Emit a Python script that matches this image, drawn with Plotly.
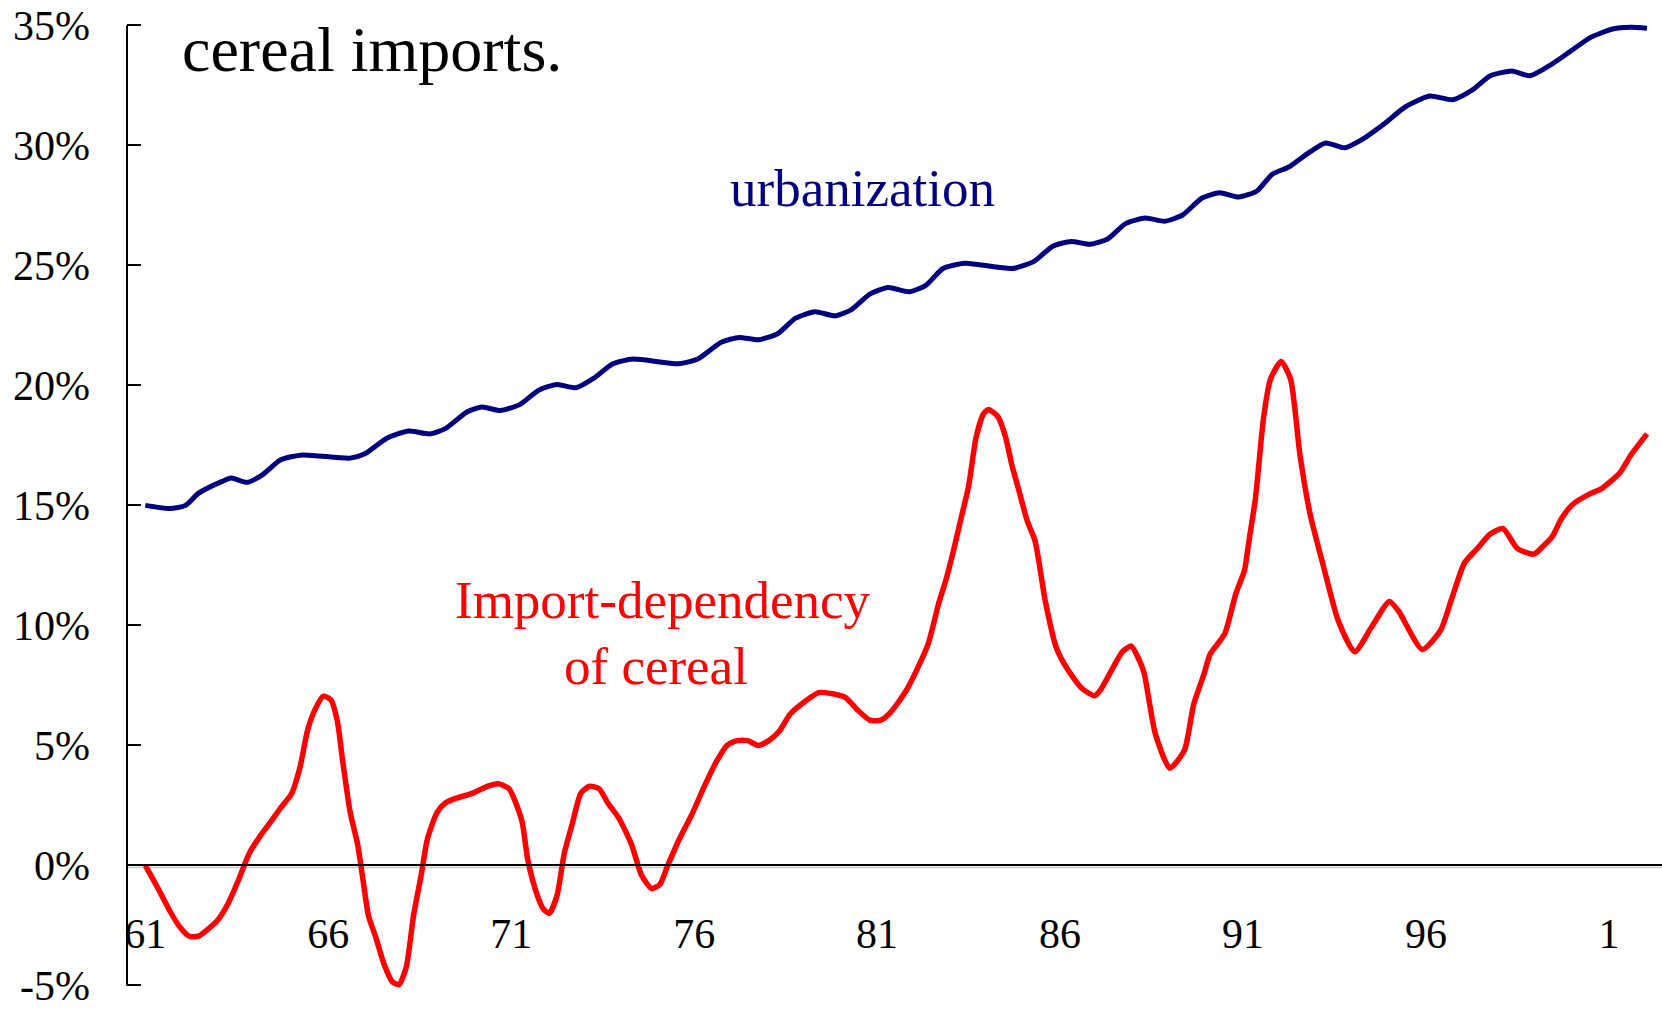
import plotly.graph_objects as go

# ---- data ----
urban_years = [1961.0, 1961.67, 1962.1, 1962.45, 1963.1, 1963.35, 1963.78, 1964.2, 1964.7, 1965.3,
               1966.6, 1967.0, 1967.6, 1968.2, 1968.77, 1969.2, 1969.8, 1970.2, 1970.7, 1971.23,
               1971.75, 1972.25, 1972.77, 1973.26, 1973.78, 1974.33, 1975.58, 1976.1, 1976.74, 1977.23,
               1977.75, 1978.28, 1978.77, 1979.3, 1979.84, 1980.3, 1980.8, 1981.3, 1981.87, 1982.33,
               1982.8, 1983.4, 1984.7, 1985.3, 1985.8, 1986.3, 1986.83, 1987.3, 1987.8, 1988.33,
               1988.86, 1989.35, 1989.87, 1990.36, 1990.88, 1991.38, 1991.8, 1992.25, 1992.8, 1993.26,
               1993.78, 1994.27, 1994.86, 1995.43, 1996.1, 1996.73, 1997.26, 1997.76, 1998.35, 1998.84,
               1999.35, 1999.93, 2000.5, 2001.1, 2001.6, 2002.04]
urban_values = [15.0, 14.87, 15.0, 15.5, 16.0, 16.14, 15.96, 16.27, 16.9, 17.1,
                16.97, 17.15, 17.8, 18.1, 17.98, 18.2, 18.9, 19.1, 18.95, 19.2,
                19.8, 20.04, 19.9, 20.3, 20.9, 21.1, 20.9, 21.1, 21.8, 22.0,
                21.9, 22.15, 22.8, 23.07, 22.9, 23.16, 23.8, 24.08, 23.9, 24.17,
                24.87, 25.09, 24.87, 25.18, 25.8, 26.0, 25.88, 26.1, 26.75, 26.97,
                26.84, 27.1, 27.8, 28.03, 27.85, 28.1, 28.8, 29.1, 29.7, 30.1,
                29.9, 30.26, 30.9, 31.6, 32.06, 31.9, 32.3, 32.9, 33.1, 32.9,
                33.3, 33.9, 34.5, 34.85, 34.92, 34.88]

import_years = [1961.0, 1961.38, 1961.67, 1961.96, 1962.2, 1962.45, 1962.68, 1962.97, 1963.26, 1963.55,
                1963.84, 1964.13, 1964.42, 1964.7, 1965.0, 1965.23, 1965.43, 1965.64, 1965.87, 1966.07,
                1966.25, 1966.39, 1966.6, 1966.8, 1966.94, 1967.1, 1967.3, 1967.52, 1967.75, 1967.93,
                1968.13, 1968.33, 1968.54, 1968.71, 1968.97, 1969.2, 1969.5, 1969.93, 1970.36, 1970.65,
                1970.94, 1971.1, 1971.3, 1971.45, 1971.67, 1971.87, 1972.04, 1972.25, 1972.45, 1972.68,
                1972.9, 1973.14, 1973.4, 1973.64, 1973.93, 1974.28, 1974.56, 1974.83, 1975.06, 1975.29,
                1975.58, 1975.93, 1976.28, 1976.6, 1976.9, 1977.17, 1977.46, 1977.75, 1978.04, 1978.33,
                1978.62, 1979.0, 1979.4, 1979.78, 1980.13, 1980.45, 1980.8, 1981.1, 1981.38, 1981.8,
                1982.1, 1982.4, 1982.68, 1982.9, 1983.1, 1983.3, 1983.5, 1983.7, 1983.9, 1984.04,
                1984.3, 1984.5, 1984.68, 1984.86, 1985.1, 1985.32, 1985.6, 1985.9, 1986.2, 1986.6,
                1986.94, 1987.1, 1987.45, 1987.7, 1987.94, 1988.15, 1988.3, 1988.6, 1989.0, 1989.4,
                1989.65, 1989.93, 1990.1, 1990.5, 1990.8, 1991.04, 1991.16, 1991.34, 1991.56, 1991.75,
                1992.04, 1992.3, 1992.55, 1992.83, 1993.2, 1993.6, 1994.05, 1994.5, 1995.0, 1995.25,
                1995.9, 1996.4, 1996.7, 1997.05, 1997.4, 1997.75, 1998.1, 1998.5, 1998.95, 1999.2,
                1999.45, 1999.7, 2000.0, 2000.5, 2000.8, 2001.3, 2001.6, 2002.04]
import_values = [0.0, -1.05, -1.9, -2.6, -2.95, -2.95, -2.7, -2.3, -1.6, -0.6,
                 0.5, 1.2, 1.8, 2.4, 3.0, 4.1, 5.6, 6.5, 7.05, 6.9,
                 6.0, 4.4, 2.2, 0.9, -0.5, -2.1, -3.0, -4.1, -4.85, -4.97,
                 -4.25, -2.1, -0.4, 1.1, 2.2, 2.6, 2.8, 3.0, 3.3, 3.4,
                 3.2, 2.7, 1.8, 0.26, -1.05, -1.8, -2.0, -1.27, 0.5, 1.8,
                 3.0, 3.3, 3.2, 2.6, 2.0, 0.9, -0.4, -0.96, -0.8, 0.04,
                 1.05, 2.1, 3.3, 4.3, 5.0, 5.2, 5.2, 5.0, 5.2, 5.6,
                 6.3, 6.8, 7.2, 7.15, 7.0, 6.5, 6.05, 6.05, 6.4, 7.3,
                 8.2, 9.25, 10.9, 12.0, 13.2, 14.5, 15.8, 17.8, 18.8, 19.0,
                 18.7, 17.9, 16.7, 15.7, 14.37, 13.5, 10.98, 9.06, 8.18, 7.37,
                 7.07, 7.3, 8.25, 8.9, 9.14, 8.6, 8.0, 5.5, 4.05, 4.8,
                 6.7, 7.96, 8.8, 9.65, 11.3, 12.3, 13.5, 15.3, 18.64, 20.26,
                 21.0, 20.26, 17.17, 14.66, 12.45, 10.2, 8.9, 9.9, 11.0, 10.6,
                 9.0, 9.8, 11.1, 12.6, 13.2, 13.8, 14.04, 13.2, 12.97, 13.3,
                 13.7, 14.44, 15.03, 15.5, 15.7, 16.36, 17.1, 17.98]

x_tick_years = [1961, 1966, 1971, 1976, 1981, 1986, 1991, 1996, 2001]
x_tick_labels = ["61", "66", "71", "76", "81", "86", "91", "96", "1"]
y_tick_values = [-5, 0, 5, 10, 15, 20, 25, 30, 35]
y_tick_labels = ["-5%", "0%", "5%", "10%", "15%", "20%", "25%", "30%", "35%"]

FONT = "Liberation Serif, Times New Roman, serif"
Y_MIN, Y_MAX = -5.15, 35.1

fig = go.Figure()
fig.add_trace(go.Scatter(x=urban_years, y=urban_values, mode="lines",
                         line=dict(color="#000080", width=5, shape="spline", smoothing=0.6),
                         hoverinfo="skip", showlegend=False))
fig.add_trace(go.Scatter(x=import_years, y=import_values, mode="lines",
                         line=dict(color="#FF0000", width=5.5, shape="spline", smoothing=0.6),
                         hoverinfo="skip", showlegend=False))

# y axis line from -5% to 35%
fig.add_shape(type="line", xref="paper", yref="y", x0=0, x1=0, y0=-5, y1=35,
              line=dict(color="black", width=2))
# faint shadow under the zero line
fig.add_shape(type="line", xref="paper", yref="y", x0=0, x1=1, y0=-0.09, y1=-0.09,
              line=dict(color="#c8c8c8", width=1.5), layer="below")

fig.add_annotation(text="cereal imports.", x=1961.96, y=33.98, xref="x", yref="y",
                   xanchor="left", yanchor="middle", showarrow=False,
                   font=dict(family=FONT, size=64, color="black"))
fig.add_annotation(text="urbanization", x=1980.6, y=28.23, xref="x", yref="y",
                   xanchor="center", yanchor="middle", showarrow=False,
                   font=dict(family=FONT, size=53, color="#000080"))
fig.add_annotation(text="Import-dependency", x=1975.13, y=11.04, xref="x", yref="y",
                   xanchor="center", yanchor="middle", showarrow=False,
                   font=dict(family=FONT, size=53, color="#FF0000"))
fig.add_annotation(text="of cereal", x=1974.97, y=8.3, xref="x", yref="y",
                   xanchor="center", yanchor="middle", showarrow=False,
                   font=dict(family=FONT, size=53, color="#FF0000"))

fig.update_layout(
    width=1662, height=1009,
    margin=dict(l=127, r=0, t=23, b=8, pad=0),
    paper_bgcolor="white", plot_bgcolor="white",
    font=dict(family=FONT, color="black"),
    xaxis=dict(range=[1960.5, 2002.45], showgrid=False, zeroline=False,
               anchor="free", position=(0 - Y_MIN) / (Y_MAX - Y_MIN),
               showline=True, linecolor="black", linewidth=2,
               tickmode="array", tickvals=x_tick_years, ticktext=x_tick_labels,
               ticks="", ticklabelstandoff=31,
               tickfont=dict(family=FONT, size=42, color="black")),
    yaxis=dict(range=[Y_MIN, Y_MAX], showgrid=False, zeroline=False, showline=False,
               tickmode="array", tickvals=y_tick_values, ticktext=y_tick_labels,
               ticks="inside", ticklen=14, tickwidth=2, tickcolor="black",
               ticklabelstandoff=36, ticklabeloverflow="allow",
               tickfont=dict(family=FONT, size=42, color="black")),
)

fig.write_html("out.html", config={"displayModeBar": False},
               post_script="document.body.style.margin='0';document.body.style.overflow='hidden';")
